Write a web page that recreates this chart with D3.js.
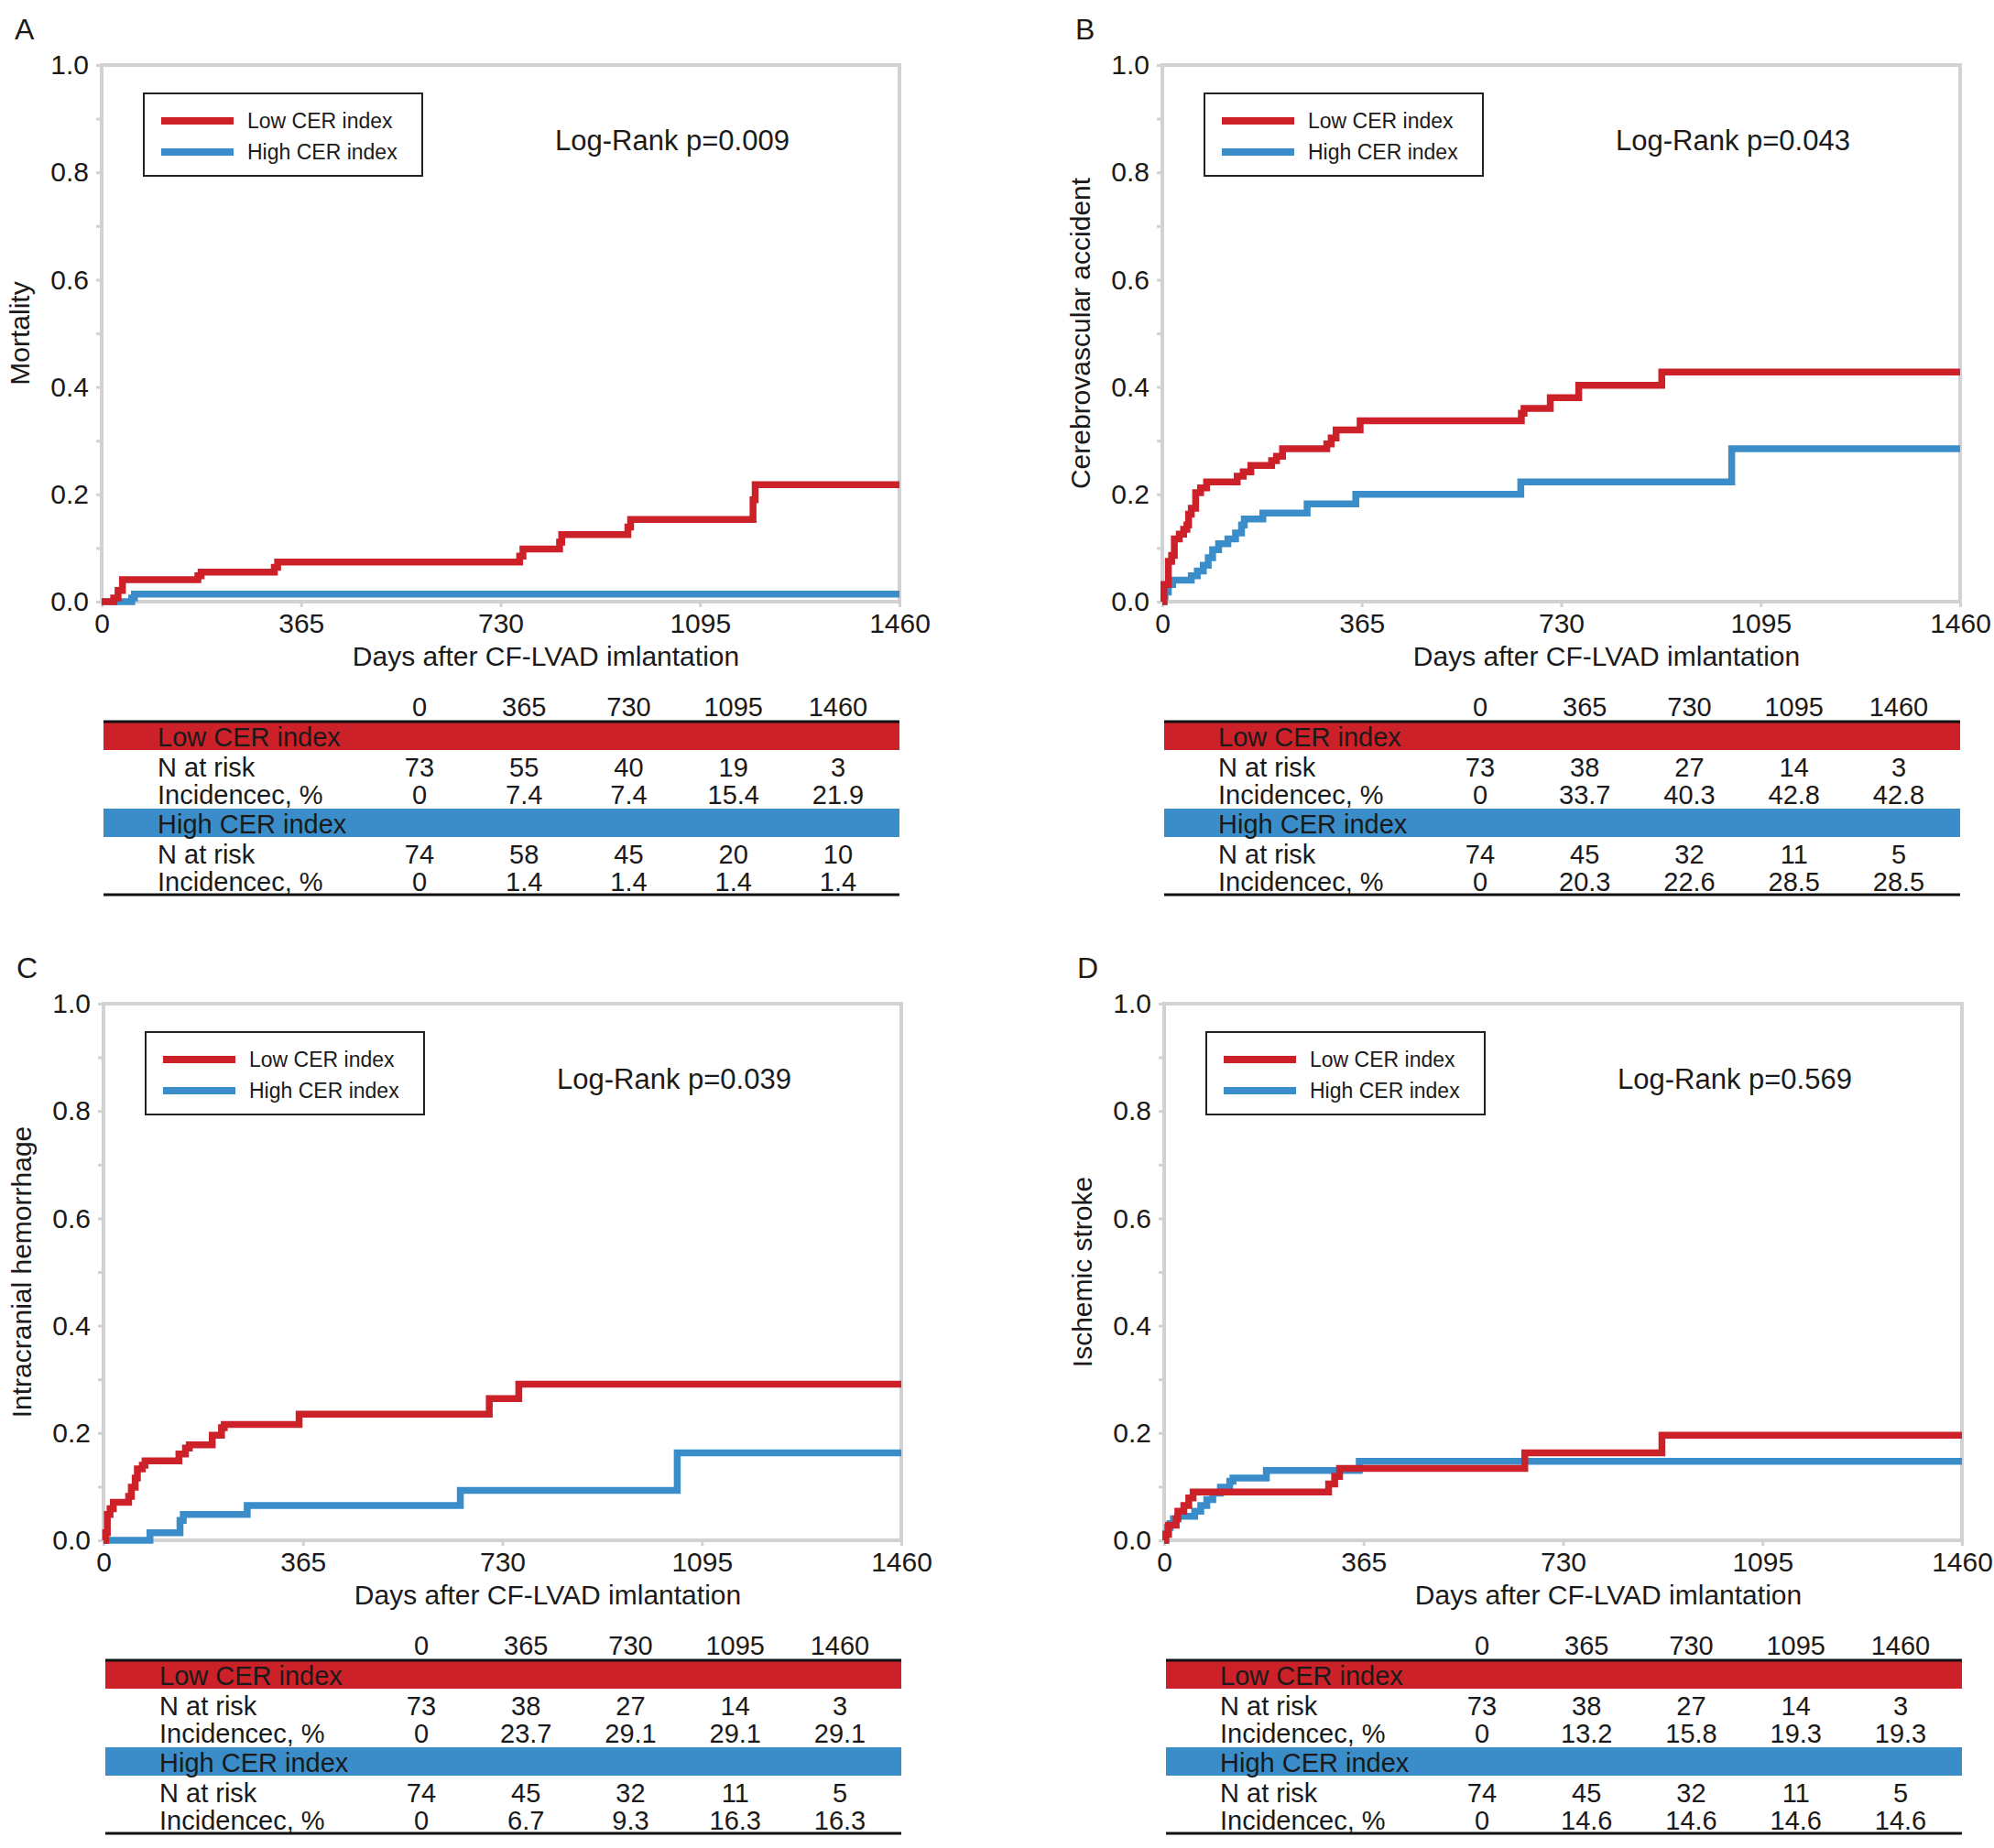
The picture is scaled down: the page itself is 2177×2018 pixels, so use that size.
<!DOCTYPE html>
<html>
<head>
<meta charset="utf-8">
<script src="https://cdn.jsdelivr.net/npm/d3@7"></script>
<style>
  body { margin: 0; background: #fff; }
  text { font-family: "Liberation Sans", Arial, sans-serif; fill: #1a1a1a; }
</style>
</head>
<body>
<div id="chart"></div>
<script>
// ---- data ----
var dayTicks = [0, 365, 730, 1095, 1460];
var yTicks = [0, 0.1, 0.2, 0.3, 0.4, 0.5, 0.6, 0.7, 0.8, 0.9, 1.0];
var groups = ["Low CER index", "High CER index"];
var panelLetters = ["A", "B", "C", "D"];
var yTitles = ["Mortality", "Cerebrovascular accident", "Intracranial hemorrhage", "Ischemic stroke"];
var logRankP = ["0.009", "0.043", "0.039", "0.569"];

// step points [day, cumulative incidence after the step]
var mortLow = [[0,0],[22,0.007],[30,0.021],[38,0.041],[176,0.048],[182,0.055],[316,0.064],[322,0.074],[765,0.085],[771,0.098],[838,0.111],[842,0.125],[963,0.139],[968,0.153],[1192,0.19],[1196,0.218]];
var mortHigh = [[0,0],[55,0.007],[60,0.014]];
var cvaLow = [[0,0],[3,0.032],[11,0.075],[17,0.086],[22,0.117],[31,0.126],[39,0.135],[45,0.143],[48,0.163],[53,0.174],[61,0.203],[70,0.212],[81,0.223],[137,0.234],[148,0.242],[162,0.254],[200,0.263],[209,0.271],[220,0.285],[301,0.294],[309,0.305],[318,0.32],[362,0.337],[657,0.351],[662,0.36],[710,0.38],[762,0.403],[914,0.428]];
var cvaHigh = [[0,0],[3,0.01],[5,0.018],[11,0.032],[19,0.04],[53,0.048],[64,0.057],[75,0.068],[84,0.082],[92,0.097],[103,0.108],[120,0.117],[134,0.128],[145,0.143],[150,0.154],[184,0.165],[265,0.182],[354,0.2],[656,0.223],[1042,0.285]];
var ichLow = [[0,0],[4,0.014],[7,0.048],[12,0.059],[18,0.071],[46,0.082],[51,0.099],[58,0.116],[62,0.133],[71,0.14],[76,0.148],[138,0.161],[150,0.172],[157,0.178],[199,0.196],[216,0.21],[221,0.216],[358,0.235],[706,0.264],[760,0.291]];
var ichHigh = [[0,0],[85,0.014],[140,0.037],[146,0.048],[263,0.065],[653,0.093],[1050,0.163]];
var isLow = [[0,0],[3,0.011],[8,0.028],[22,0.04],[25,0.054],[36,0.065],[45,0.079],[53,0.09],[301,0.105],[312,0.119],[321,0.134],[660,0.163],[911,0.196]];
var isHigh = [[0,0],[3,0.012],[6,0.024],[11,0.031],[17,0.04],[25,0.045],[56,0.054],[67,0.065],[78,0.076],[89,0.088],[103,0.099],[120,0.11],[126,0.116],[187,0.13],[357,0.147]];

// number-at-risk tables
var lowN = [[73,55,40,19,3],[73,38,27,14,3],[73,38,27,14,3],[73,38,27,14,3]];
var lowInc = [[0,7.4,7.4,15.4,21.9],[0,33.7,40.3,42.8,42.8],[0,23.7,29.1,29.1,29.1],[0,13.2,15.8,19.3,19.3]];
var highN = [[74,58,45,20,10],[74,45,32,11,5],[74,45,32,11,5],[74,45,32,11,5]];
var highInc = [[0,1.4,1.4,1.4,1.4],[0,20.3,22.6,28.5,28.5],[0,6.7,9.3,16.3,16.3],[0,14.6,14.6,14.6,14.6]];

var lowCurves = [mortLow, cvaLow, ichLow, isLow];
var highCurves = [mortHigh, cvaHigh, ichHigh, isHigh];

// ---- drawing ----
var red = "#cc2128", blue = "#3a8dc9", grid = "#d2d2d2";
var width = 2177, height = 2018;
var offsets = [[0, 0], [1158, 0], [2, 1025], [1160, 1025]];

var svg = d3.select("#chart").append("svg")
    .attr("width", width)
    .attr("height", height);

var x = d3.scaleLinear().domain([0, 1460]).range([111, 982]);
var y = d3.scaleLinear().domain([0, 1]).range([657, 71]);
var col = d3.scalePoint().domain(dayTicks).range([458, 915]);

var line = d3.line()
    .x(function(d) { return x(d[0]); })
    .y(function(d) { return y(d[1]); })
    .curve(d3.curveStepAfter);

function extend(pts) {
  return pts.concat([[1460, pts[pts.length - 1][1]]]);
}

function fmt(v) { return v === 0 ? "0" : v.toFixed(1); }

panelLetters.forEach(function(letter, i) {
  var g = svg.append("g")
      .attr("transform", "translate(" + offsets[i][0] + "," + offsets[i][1] + ")");

  g.append("text")
      .attr("x", 16).attr("y", 43)
      .style("font-size", "32px")
      .text(letter);

  // ticks
  var yAx = g.append("g")
      .attr("transform", "translate(" + x(0) + ",0)")
      .call(d3.axisLeft(y).tickValues(yTicks).tickSize(6).tickPadding(8)
        .tickFormat(function(d) { return Math.round(d * 10) % 2 === 0 ? d.toFixed(1) : ""; }));
  yAx.select(".domain").remove();
  yAx.selectAll("line").attr("stroke", grid).attr("stroke-width", 3);
  yAx.selectAll("text").style("font-size", "30px").attr("fill", "#1a1a1a");

  var xAx = g.append("g")
      .attr("transform", "translate(0," + y(0) + ")")
      .call(d3.axisBottom(x).tickValues(dayTicks).tickSize(6).tickPadding(7)
        .tickFormat(d3.format("d")));
  xAx.select(".domain").remove();
  xAx.selectAll("line").attr("stroke", grid).attr("stroke-width", 3);
  xAx.selectAll("text").style("font-size", "30px").attr("fill", "#1a1a1a");

  // frame
  g.append("rect")
      .attr("x", x(0)).attr("y", y(1))
      .attr("width", x(1460) - x(0)).attr("height", y(0) - y(1))
      .attr("fill", "none")
      .attr("stroke", grid)
      .attr("stroke-width", 4);

  g.append("text")
      .attr("transform", "translate(32," + (y(0) + y(1)) / 2 + ") rotate(-90)")
      .attr("text-anchor", "middle")
      .style("font-size", "30px")
      .text(yTitles[i]);

  g.append("text")
      .attr("x", 596).attr("y", 727)
      .attr("text-anchor", "middle")
      .style("font-size", "30px")
      .text("Days after CF-LVAD imlantation");

  // curves
  g.append("path")
      .datum(extend(highCurves[i]))
      .attr("fill", "none")
      .attr("stroke", blue)
      .attr("stroke-width", 7.5)
      .attr("d", line);
  g.append("path")
      .datum(extend(lowCurves[i]))
      .attr("fill", "none")
      .attr("stroke", red)
      .attr("stroke-width", 7.5)
      .attr("d", line);

  // legend
  g.append("rect")
      .attr("x", 157).attr("y", 102)
      .attr("width", 304).attr("height", 90)
      .attr("fill", "#fff")
      .attr("stroke", "#222")
      .attr("stroke-width", 2);
  var leg = g.selectAll(".leg")
      .data(groups)
      .enter().append("g")
      .attr("class", "leg")
      .attr("transform", function(d, k) { return "translate(0," + (132 + k * 34) + ")"; });
  leg.append("line")
      .attr("x1", 176).attr("x2", 255)
      .attr("stroke", function(d, k) { return k === 0 ? red : blue; })
      .attr("stroke-width", 8);
  leg.append("text")
      .attr("x", 270).attr("y", 8)
      .style("font-size", "23px")
      .text(function(d) { return d; });

  g.append("text")
      .attr("x", 606).attr("y", 164)
      .style("font-size", "31px")
      .text("Log-Rank p=" + logRankP[i]);

  // risk table
  var t = g.append("g");
  t.selectAll(".hdr")
      .data(dayTicks)
      .enter().append("text")
      .attr("x", function(d) { return col(d); })
      .attr("y", 782)
      .attr("text-anchor", "middle")
      .style("font-size", "29px")
      .text(function(d) { return d; });

  var blocks = [
    {name: groups[0], color: red, top: 788, n: lowN[i], inc: lowInc[i]},
    {name: groups[1], color: blue, top: 883, n: highN[i], inc: highInc[i]}
  ];
  blocks.forEach(function(b) {
    t.append("rect")
        .attr("x", 113).attr("y", b.top)
        .attr("width", 869).attr("height", 31)
        .attr("fill", b.color);
    t.append("text")
        .attr("x", 172).attr("y", b.top + 27)
        .style("font-size", "29px")
        .text(b.name);
    [["N at risk", b.n, 60], ["Incidencec, %", b.inc, 90]].forEach(function(r) {
      t.append("text")
          .attr("x", 172).attr("y", b.top + r[2])
          .style("font-size", "29px")
          .text(r[0]);
      t.selectAll(null)
          .data(r[1])
          .enter().append("text")
          .attr("x", function(d, k) { return col(dayTicks[k]); })
          .attr("y", b.top + r[2])
          .attr("text-anchor", "middle")
          .style("font-size", "29px")
          .text(function(d) { return r[0] === "N at risk" ? d : fmt(d); });
    });
  });

  t.append("line")
      .attr("x1", 113).attr("x2", 982)
      .attr("y1", 788).attr("y2", 788)
      .attr("stroke", "#111").attr("stroke-width", 3);
  t.append("line")
      .attr("x1", 113).attr("x2", 982)
      .attr("y1", 977).attr("y2", 977)
      .attr("stroke", "#111").attr("stroke-width", 3);
});
</script>
</body>
</html>
